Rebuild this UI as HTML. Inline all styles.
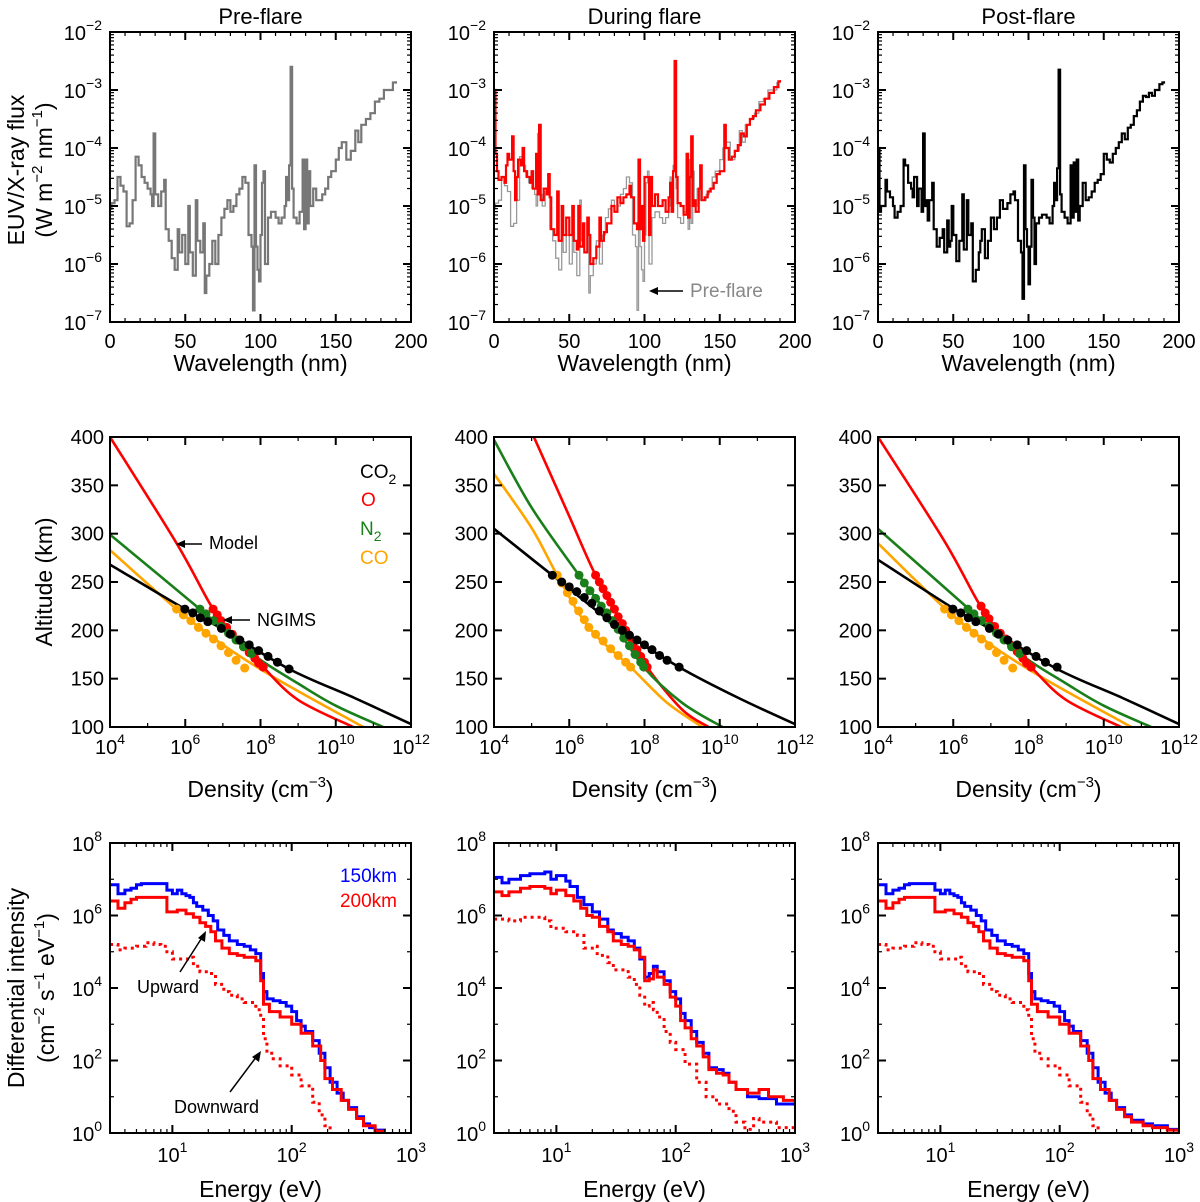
<!DOCTYPE html>
<html><head><meta charset="utf-8"><style>
body{margin:0;background:#fff}
svg{display:block;font-family:"Liberation Sans",Arial,sans-serif}
</style></head><body>
<svg id="fig" width="1200" height="1202" viewBox="0 0 1200 1202" xmlns="http://www.w3.org/2000/svg">
<g id="layer"></g>
</svg>
<script>
// ---------- DATA ----------
const preFlare=[[0,-5.05],[1,-4.95],[3,-4.9],[5,-4.5],[7,-4.65],[9,-4.75],[11,-5.35],[13,-5.3],[15,-4.9],[17,-4.15],[19,-4.3],[21,-4.5],[23,-4.6],[25,-4.7],[27,-4.8],[28,-5.0],[29,-3.75],[30,-4.8],[32,-5.0],[34,-4.75],[36,-4.55],[37,-5.4],[39,-5.6],[41,-5.9],[43,-6.1],[45,-5.4],[46,-5.8],[48,-5.5],[50,-6.0],[52,-5.0],[53,-5.8],[55,-6.2],[57,-4.9],[58,-5.6],[60,-5.8],[62,-5.3],[63,-6.5],[64,-6.2],[66,-6.0],[68,-5.6],[70,-6.0],[72,-5.5],[74,-5.2],[76,-5.05],[78,-4.9],[80,-5.1],[82,-5.0],[84,-4.8],[86,-4.7],[88,-4.5],[90,-4.6],[92,-5.5],[94,-5.7],[95,-6.8],[96,-4.3],[97,-5.7],[98,-6.1],[99,-6.3],[100,-5.5],[101,-4.6],[102,-4.4],[103,-6.0],[105,-5.2],[107,-5.1],[110,-5.2],[112,-5.3],[114,-5.2],[116,-5.0],[117,-4.5],[118,-4.9],[119,-4.3],[120,-2.6],[121,-4.7],[122,-5.2],[124,-5.3],[126,-5.1],[128,-4.2],[129,-5.4],[130,-4.2],[131,-5.3],[132,-4.4],[133,-5.0],[135,-4.7],[137,-4.9],[139,-4.9],[141,-4.8],[143,-4.7],[145,-4.5],[147,-4.4],[150,-4.2],[152,-4.0],[154,-3.9],[157,-4.2],[160,-4.05],[163,-3.7],[165,-3.9],[167,-3.6],[170,-3.5],[173,-3.4],[176,-3.2],[179,-3.15],[182,-3.0],[185,-3.0],[188,-2.87],[190,-2.85]];
const duringFlare=[[0,-3.0],[1,-4.1],[2,-4.4],[3,-4.55],[5,-4.5],[7,-4.6],[8,-4.3],[9,-4.1],[10,-4.2],[12,-3.8],[13,-4.4],[14,-4.9],[15,-4.5],[16,-4.2],[18,-4.3],[19,-4.0],[20,-4.4],[22,-4.5],[24,-4.6],[25,-4.4],[26,-4.7],[28,-4.1],[29,-4.8],[30,-3.6],[31,-4.9],[33,-4.7],[35,-4.8],[36,-4.45],[37,-4.85],[38,-5.4],[40,-5.5],[42,-4.75],[43,-5.6],[45,-5.0],[46,-5.5],[48,-5.2],[50,-5.5],[52,-5.0],[53,-5.6],[55,-5.75],[56,-5.0],[57,-5.7],[59,-5.3],[60,-5.8],[62,-5.2],[63,-5.5],[64,-6.0],[66,-5.9],[68,-5.7],[70,-5.2],[71,-5.6],[73,-5.45],[75,-5.3],[78,-5.0],[80,-5.1],[82,-4.85],[84,-4.95],[86,-4.85],[88,-4.8],[90,-4.65],[91,-4.85],[93,-5.3],[95,-5.4],[96,-4.2],[97,-5.4],[98,-5.0],[99,-5.6],[100,-4.5],[101,-4.5],[103,-5.5],[104,-4.5],[105,-5.0],[107,-4.8],[109,-5.0],[112,-4.9],[114,-5.1],[116,-4.85],[117,-4.6],[118,-5.1],[119,-4.4],[120,-2.5],[121,-4.5],[122,-4.95],[124,-5.0],[126,-5.15],[128,-4.1],[129,-5.2],[130,-4.5],[131,-3.8],[132,-5.0],[133,-4.9],[134,-5.1],[136,-4.7],[137,-4.3],[138,-4.9],[140,-4.85],[142,-4.75],[144,-4.7],[146,-4.6],[148,-4.45],[150,-4.4],[153,-3.6],[154,-4.0],[156,-4.2],[158,-4.15],[160,-4.05],[162,-3.95],[164,-3.75],[166,-3.8],[168,-3.6],[170,-3.5],[172,-3.45],[174,-3.35],[177,-3.25],[180,-3.15],[183,-3.05],[186,-2.95],[189,-2.85],[190,-2.83]];
const postFlare=[[0,-4.0],[1,-5.1],[2,-5.0],[5,-4.55],[6,-4.75],[8,-4.85],[10,-5.0],[11,-5.2],[13,-5.1],[15,-5.0],[17,-4.2],[18,-4.3],[20,-4.6],[22,-4.7],[23,-4.85],[24,-4.5],[26,-5.0],[27,-4.7],[29,-5.1],[30,-3.75],[31,-5.0],[32,-4.9],[33,-5.25],[34,-4.9],[36,-4.6],[37,-5.4],[39,-5.7],[41,-5.55],[43,-5.4],[44,-5.8],[46,-5.25],[47,-5.7],[48,-5.6],[49,-5.0],[50,-5.5],[52,-5.95],[54,-5.6],[56,-4.8],[57,-5.75],[59,-4.9],[60,-5.5],[62,-5.3],[63,-6.3],[65,-6.1],[67,-5.8],[68,-5.6],[69,-5.4],[71,-5.9],[73,-5.6],[75,-5.2],[77,-5.4],[79,-5.2],[81,-4.9],[83,-5.05],[86,-4.95],[88,-4.8],[90,-4.75],[91,-4.9],[93,-5.6],[95,-5.8],[96,-6.6],[97,-4.3],[98,-5.4],[99,-5.7],[100,-6.35],[101,-5.7],[102,-4.55],[103,-5.2],[104,-6.0],[105,-5.3],[107,-5.2],[109,-5.15],[112,-5.2],[114,-5.3],[116,-5.0],[117,-4.6],[118,-4.9],[119,-4.35],[120,-2.65],[121,-4.8],[122,-5.1],[124,-5.2],[126,-5.3],[128,-4.3],[129,-5.2],[130,-4.25],[131,-5.1],[132,-4.2],[133,-5.25],[134,-5.0],[136,-4.6],[138,-4.9],[140,-4.85],[142,-4.75],[144,-4.6],[146,-4.55],[148,-4.45],[150,-4.1],[152,-4.2],[154,-4.25],[156,-4.1],[158,-4.0],[160,-3.9],[162,-3.75],[164,-3.85],[166,-3.65],[168,-3.6],[170,-3.45],[172,-3.35],[174,-3.2],[176,-3.1],[178,-3.12],[180,-3.05],[182,-3.1],[184,-3.0],[187,-2.9],[189,-2.87],[190,-2.85]];
// Row 2: [log10 density, altitude km]
const preCO2=[[4,268],[5.99,222],[6.96,202],[8.76,160],[10.5,130],[12,103]];
const preO=[[4,400],[5.77,290],[6.74,222],[7.4,190],[8.07,162],[9,128],[10.46,100]];
const preN2=[[4,299],[6.39,222],[7.76,176],[9,145],[10,122],[11.26,100]];
const preCO=[[4,283],[5.77,222],[7,185],[8.42,150],[10.73,100]];
const preCO2dots=[[5.99,222],[6.2,218],[6.4,213],[6.6,209],[6.96,202],[7.2,196],[7.45,190],[7.7,185],[7.95,179],[8.2,173],[8.45,167],[8.76,160]];
const preOdots=[[6.74,222],[6.85,216],[6.95,210],[7.1,203],[7.25,196],[7.4,190],[7.55,183],[7.7,177],[7.85,171],[7.95,166],[8.07,162]];
const preN2dots=[[6.39,222],[6.55,217],[6.75,210],[6.95,204],[7.15,197],[7.35,190],[7.55,183],[7.76,176]];
const preCOdots=[[5.77,222],[5.95,216],[6.15,210],[6.35,203],[6.55,197],[6.75,191],[6.95,184],[7.15,177],[7.35,169],[7.58,161]];
const flCO2=[[4,305],[5.55,257],[7.41,200],[8.92,162],[10.5,130],[12,103]];
const flO=[[5.06,400],[6.0,318],[6.7,257],[7.41,207],[8.07,162],[9.0,118],[9.7,100]];
const flN2=[[4,397],[5,327],[6.26,257],[7.14,210],[7.98,162],[9,125],[10.07,100]];
const flCO=[[4,362],[5,306],[5.68,257],[6.52,203],[7.63,162],[8.6,125],[9.54,100]];
const flCO2dots=[[5.55,257],[5.8,250],[6.0,245],[6.2,240],[6.4,234],[6.6,228],[6.8,220],[7.0,213],[7.2,206],[7.41,200],[7.6,195],[7.8,190],[8.0,185],[8.2,180],[8.4,174],[8.6,169],[8.92,162]];
const flOdots=[[6.7,257],[6.8,250],[6.9,243],[7.0,236],[7.1,229],[7.2,222],[7.3,214],[7.41,207],[7.5,200],[7.6,193],[7.7,187],[7.8,180],[7.9,173],[8.0,167],[8.07,162]];
const flN2dots=[[6.26,257],[6.4,249],[6.55,241],[6.7,233],[6.85,225],[7.0,218],[7.14,210],[7.3,201],[7.45,192],[7.6,184],[7.75,175],[7.9,167],[7.98,162]];
const flCOdots=[[5.68,257],[5.8,249],[5.95,239],[6.1,230],[6.25,220],[6.4,211],[6.52,203],[6.7,196],[6.9,189],[7.1,181],[7.3,174],[7.5,167],[7.63,162]];
const poCO2=[[4,273],[5.99,223],[6.96,202],[8.76,160],[10.5,130],[12,103]];
const poO=[[4,400],[5.77,292],[6.74,224],[7.4,191],[8.07,162],[9,128],[10.46,100]];
const poN2=[[4,305],[6.39,223],[7.76,176],[9,145],[10,122],[11.26,100]];
const poCO=[[4,290],[5.77,223],[7,185],[8.42,150],[10.73,100]];
const poCO2dots=[[5.99,222],[6.2,218],[6.4,213],[6.6,209],[6.96,202],[7.2,196],[7.45,190],[7.7,185],[7.95,179],[8.2,173],[8.45,167],[8.76,162]];
const poOdots=[[6.74,225],[6.85,218],[6.95,212],[7.1,204],[7.25,197],[7.4,191],[7.55,184],[7.7,178],[7.85,171],[7.95,166],[8.07,162]];
const poN2dots=[[6.39,222],[6.55,217],[6.75,210],[6.95,204],[7.15,197],[7.35,190],[7.55,183],[7.76,176]];
const poCOdots=[[5.77,222],[5.95,216],[6.15,210],[6.35,203],[6.55,197],[6.75,191],[6.95,184],[7.15,177],[7.35,169],[7.58,161]];
// Row 3: [energy eV, log10 intensity]
const pre150=[[3,6.85],[3.5,6.6],[4,6.7],[4.5,6.75],[5,6.85],[5.5,6.88],[9,6.7],[10,6.6],[11,6.7],[12,6.6],[13,6.55],[14,6.5],[15,6.35],[16,6.25],[18,6.15],[20,6.0],[22,5.85],[24,5.6],[27,5.45],[30,5.3],[35,5.2],[40,5.15],[45,5.05],[50,4.95],[55,4.4],[58,3.9],[62,3.7],[70,3.65],[80,3.6],[90,3.5],[100,3.35],[110,3.1],[120,2.95],[130,2.8],[150,2.55],[170,2.2],[190,1.8],[210,1.4],[240,1.1],[270,0.9],[300,0.7],[350,0.45],[400,0.25],[450,0.15],[500,0.08],[600,0.0]];
const pre200=[[3,6.4],[3.5,6.2],[4,6.35],[4.5,6.45],[5,6.5],[9,6.1],[11,6.15],[13,6.05],[15,5.95],[17,5.8],[19,5.7],[21,5.55],[23,5.3],[26,5.1],[30,4.95],[35,4.9],[40,4.85],[50,4.75],[55,4.2],[58,3.55],[65,3.35],[80,3.2],[100,3.0],[120,2.75],[150,2.4],[175,2.0],[190,1.5],[220,1.2],[260,0.9],[300,0.65],[350,0.4],[400,0.2],[500,0.05],[600,0.0]];
const preDown=[[3,5.2],[3.5,5.05],[4,5.1],[5,5.15],[6,5.25],[7,5.2],[8,5.15],[9,5.0],[10,4.8],[12,4.8],[14,4.85],[15,4.6],[17,4.45],[20,4.4],[23,4.1],[27,3.9],[30,3.8],[35,3.7],[40,3.6],[50,3.4],[55,3.2],[58,2.6],[62,2.2],[70,2.05],[80,1.85],[100,1.6],[120,1.3],[150,0.85],[170,0.5],[190,0.2],[210,0.0]];
const fl150=[[3,7.05],[3.5,6.9],[4,7.0],[5,7.1],[6,7.15],[8,7.2],[9,7.0],[10,7.1],[12,6.95],[13,6.8],[15,6.5],[17,6.3],[20,6.1],[23,5.9],[27,5.6],[30,5.5],[35,5.4],[40,5.3],[45,5.1],[50,4.8],[55,4.3],[60,4.4],[65,4.6],[70,4.45],[80,4.2],[90,3.9],[100,3.7],[110,3.3],[120,3.1],[135,2.8],[150,2.5],[170,2.2],[190,1.8],[220,1.75],[250,1.65],[280,1.4],[320,1.2],[400,1.0],[500,0.95],[700,0.8],[1000,0.75]];
const fl200=[[3,6.65],[3.5,6.55],[4,6.65],[5,6.75],[6,6.8],[8,6.75],[9,6.6],[10,6.7],[12,6.55],[14,6.4],[16,6.2],[18,6.0],[20,5.95],[23,5.7],[27,5.55],[30,5.3],[35,5.2],[40,5.15],[45,5.05],[50,4.85],[55,4.2],[60,4.25],[65,4.5],[70,4.3],[80,4.1],[90,3.75],[100,3.5],[110,3.1],[120,2.9],[135,2.6],[150,2.4],[170,2.1],[190,1.75],[220,1.65],[250,1.6],[280,1.4],[320,1.2],[400,1.1],[500,1.2],[600,1.0],[800,0.9],[1000,0.85]];
const flDown=[[3,5.9],[4,5.85],[5,5.95],[6,5.95],[8,5.85],[9,5.65],[12,5.55],[15,5.45],[17,5.1],[20,5.15],[22,4.9],[27,4.7],[30,4.5],[35,4.5],[40,4.3],[45,4.1],[50,3.8],[55,3.5],[60,3.6],[65,3.4],[70,3.2],[80,2.8],[90,2.5],[100,2.3],[120,1.9],[150,1.4],[180,1.0],[220,0.8],[280,0.6],[320,0.3],[380,0.1],[450,0.4],[500,0.3],[700,0.15],[1000,0.05]];
const po150=[[3,6.85],[3.5,6.6],[4,6.7],[4.5,6.75],[5,6.85],[5.5,6.88],[9,6.7],[10,6.6],[11,6.7],[12,6.6],[13,6.55],[14,6.5],[15,6.35],[16,6.25],[18,6.15],[20,6.0],[22,5.85],[24,5.6],[27,5.45],[30,5.3],[35,5.2],[40,5.15],[45,5.05],[50,4.95],[55,4.4],[58,3.9],[62,3.7],[70,3.65],[80,3.6],[90,3.5],[100,3.35],[110,3.1],[120,2.95],[130,2.8],[150,2.55],[170,2.2],[190,1.8],[210,1.4],[240,1.1],[270,0.9],[300,0.7],[350,0.5],[400,0.35],[500,0.25],[600,0.2],[800,0.1],[1000,0.0]];
const po200=[[3,6.4],[3.5,6.2],[4,6.35],[4.5,6.45],[5,6.5],[9,6.1],[11,6.15],[13,6.05],[15,5.95],[17,5.8],[19,5.7],[21,5.55],[23,5.3],[26,5.1],[30,4.95],[35,4.9],[40,4.85],[50,4.75],[55,4.2],[58,3.55],[65,3.35],[80,3.2],[100,3.0],[120,2.75],[150,2.4],[175,2.0],[190,1.5],[220,1.2],[260,0.9],[300,0.65],[350,0.45],[400,0.3],[500,0.2],[600,0.15],[800,0.08],[1000,0.0]];
const poDown=[[3,5.2],[3.5,5.05],[4,5.1],[5,5.15],[6,5.25],[7,5.2],[8,5.15],[9,5.0],[10,4.8],[12,4.8],[14,4.85],[15,4.6],[17,4.45],[20,4.4],[23,4.1],[27,3.9],[30,3.8],[35,3.7],[40,3.6],[50,3.4],[55,3.2],[58,2.6],[62,2.2],[70,2.05],[80,1.85],[100,1.6],[120,1.3],[150,0.85],[170,0.5],[190,0.2],[210,0.0]];
const panelTitles=["Pre-flare","During flare","Post-flare"];
const row1YTicks=[-7,-6,-5,-4,-3,-2];
const row1XTicks=[0,50,100,150,200];
const row2YTicks=[100,150,200,250,300,350,400];
const row2XTicks=[4,6,8,10,12];
const row3YTicks=[0,2,4,6,8];
const row3XTicks=[1,2,3];

// ---------- HELPERS ----------
const NS="http://www.w3.org/2000/svg";
const layer=document.getElementById('layer');
function mk(tag,attrs,parent){const e=document.createElementNS(NS,tag);for(const k in attrs)e.setAttribute(k,attrs[k]);(parent||layer).appendChild(e);return e;}
const COLS=[110,494,878],W=301;
const ROWS=[[32,322],[437,727],[843,1133]];
const TK=20,SUP=14,AX=23;
function scale(d0,d1,p0,p1){return v=>p0+(v-d0)*(p1-p0)/(d1-d0);}
function powLabel(x,y,exp,anchor,name,parent){
  const t=mk('text',{x:x,y:y,'text-anchor':anchor,'font-size':TK,fill:'#000'},parent);
  
  
  const a=mk('tspan',{},t);a.textContent='10';
  const b=mk('tspan',{dy:-10,'font-size':SUP},t);b.textContent=String(exp).replace('-','\u2212');
  return t;
}
function txt(x,y,s,size,fill,anchor,name,parent,extra){
  const t=mk('text',Object.assign({x:x,y:y,'font-size':size,fill:fill,'text-anchor':anchor||'start'},extra||{}),parent);
  
  
  t.textContent=s;return t;
}
function stepPath(data,sx,sy){
  let d='';
  data.forEach((p,i)=>{const X=sx(p[0]).toFixed(1),Y=sy(p[1]).toFixed(1);
    if(i===0)d+='M'+X+','+Y;else d+='H'+X+'V'+Y;});
  return d;
}
function smoothPath(data,sx,sy){
  const pts=data.map(p=>[sx(p[0]),sy(p[1])]);
  let d='M'+pts[0][0].toFixed(1)+','+pts[0][1].toFixed(1);
  for(let i=0;i<pts.length-1;i++){
    const p0=pts[Math.max(0,i-1)],p1=pts[i],p2=pts[i+1],p3=pts[Math.min(pts.length-1,i+2)];
    const c1=[p1[0]+(p2[0]-p0[0])/6,p1[1]+(p2[1]-p0[1])/6];
    const c2=[p2[0]-(p3[0]-p1[0])/6,p2[1]-(p3[1]-p1[1])/6];
    d+='C'+c1.map(v=>v.toFixed(1))+' '+c2.map(v=>v.toFixed(1))+' '+p2.map(v=>v.toFixed(1));
  }
  return d;
}
function frame(g,L,T,H,name){
  const r=mk('rect',{x:L,y:T,width:W,height:H,fill:'none',stroke:'#000','stroke-width':2},g);
  
  
  return r;
}
function tickLine(g,x1,y1,x2,y2,w){mk('line',{x1:x1,y1:y1,x2:x2,y2:y2,stroke:'#000','stroke-width':w||1.5},g);}
function yTicksBoth(g,L,R,y,len,w){tickLine(g,L,y,L+len,y,w);tickLine(g,R,y,R-len,y,w);}
function xTicksBoth(g,T,B,x,len,w){tickLine(g,x,B,x,B-len,w);tickLine(g,x,T,x,T+len,w);}

// ---------- ROW 1 ----------
const spectra=[preFlare,duringFlare,postFlare];
const specColors=['#777777','#ff0000','#000000'];
for(let c=0;c<3;c++){
  const L=COLS[c],R=L+W,[T,B]=ROWS[0];
  const g=mk('g',{});
  
  
  const sx=scale(0,200,L,R),sy=scale(-7,-2,B,T);
  txt((L+R)/2,24,panelTitles[c],22,'#000','middle','panel-title-'+(c+1),g);
  if(c===1){
    const pg=mk('path',{d:stepPath(preFlare,sx,sy),fill:'none',stroke:'#999','stroke-width':1.3},g);
    
    
  }
  const p=mk('path',{d:stepPath(spectra[c],sx,sy),fill:'none',stroke:specColors[c],'stroke-width':2.2},g);
  
  
  frame(g,L,T,B-T,'plot-frame');
  row1YTicks.forEach(e=>{const y=sy(e);
    if(e>-7&&e<-2)yTicksBoth(g,L,R,y,8,2);
    if(e<-2)for(let m=2;m<10;m++){const ym=sy(e+Math.log10(m));yTicksBoth(g,L,R,ym,4,1.2);}
    powLabel(L-8,y+8,e,'end','y-tick-label',g);});
  for(let v=0;v<=200;v+=10){const x=sx(v);xTicksBoth(g,T,B,x,v%50===0?8:4,v%50===0?2:1.2);}
  row1XTicks.forEach(v=>txt(sx(v),B+26,String(v),TK,'#000','middle','x-tick-label',g));
  txt((L+R)/2,B+49,'Wavelength (nm)',AX,'#000','middle','x-axis-title',g);
}
{
  const g=mk('g',{transform:'translate(24,170) rotate(-90)'});
  
  
  txt(0,0,'EUV/X-ray flux',AX,'#000','middle','y-axis-title-line1',g);
  const t=mk('text',{x:0,y:28,'font-size':AX,'text-anchor':'middle'},g);
  
  
  t.innerHTML='(W m<tspan dy="-10" font-size="15">\u22122</tspan><tspan dy="10"> nm</tspan><tspan dy="-10" font-size="15">\u22121</tspan><tspan dy="10">)</tspan>';
  const a=mk('g',{});
  
  
  mk('line',{x1:683,y1:291,x2:652,y2:291,stroke:'#000','stroke-width':1.5},a);
  mk('path',{d:'M649,291 L658,287 L658,295 Z',fill:'#000'},a);
  txt(690,297,'Pre-flare',19,'#888','start','preflare-label',a);
}

// ---------- ROW 2 ----------
const curves=[[preCO2,preO,preN2,preCO],[flCO2,flO,flN2,flCO],[poCO2,poO,poN2,poCO]];
const dots=[[preCO2dots,preOdots,preN2dots,preCOdots],[flCO2dots,flOdots,flN2dots,flCOdots],[poCO2dots,poOdots,poN2dots,poCOdots]];
const specNames=['co2','o','n2','co'];
const specCols=['#000000','#ff0000','#1a7f1a','#ffa500'];
const drawOrder=[3,1,2,0];
for(let c=0;c<3;c++){
  const L=COLS[c],R=L+W,[T,B]=ROWS[1];
  const g=mk('g',{});
  
  
  const cp=mk('clipPath',{id:'cp2'+c},g);mk('rect',{x:L,y:T,width:W,height:B-T},cp);
  const sx=scale(4,12,L,R),sy=scale(100,400,B,T);
  const inner=mk('g',{'clip-path':'url(#cp2'+c+')'},g);
  drawOrder.forEach(s=>{
    const p=mk('path',{d:smoothPath(curves[c][s],sx,sy),fill:'none',stroke:specCols[s],'stroke-width':2.6},inner);
    
    
  });
  drawOrder.forEach(s=>{
    dots[c][s].forEach(d=>{
      const ci=mk('circle',{cx:sx(d[0]),cy:sy(d[1]),r:4.5,fill:specCols[s]},inner);
      
      
    });
  });
  frame(g,L,T,B-T,'plot-frame');
  row2YTicks.forEach(v=>{const y=sy(v);if(v>100&&v<400)yTicksBoth(g,L,R,y,8,2);
    txt(L-6,y+7,String(v),TK,'#000','end','y-tick-label',g);});
  for(let e=5;e<12;e++){xTicksBoth(g,T,B,sx(e),e%2===0?8:4,e%2===0?2:1.2);}
  row2XTicks.forEach(e=>powLabel(sx(e),B+27,e,'middle','x-tick-label',g));
  const t=mk('text',{x:(L+R)/2,y:B+70,'font-size':AX,'text-anchor':'middle'},g);
  
  
  t.innerHTML='Density (cm<tspan dy="-10" font-size="15">\u22123</tspan><tspan dy="10">)</tspan>';
}
{
  const g=mk('g',{transform:'translate(52,582) rotate(-90)'});
  
  
  txt(0,0,'Altitude (km)',AX,'#000','middle','altitude-title',g);
  const lg=mk('g',{});
  
  
  const t1=mk('text',{x:360,y:478,'font-size':19,fill:'#000'},lg);
  
  
  t1.innerHTML='CO<tspan dy="6" font-size="14">2</tspan>';
  txt(361,506,'O',19,'#ff0000','start','legend-o',lg);
  const t3=mk('text',{x:360,y:535,'font-size':19,fill:'#1a7f1a'},lg);
  
  
  t3.innerHTML='N<tspan dy="6" font-size="14">2</tspan>';
  txt(360,564,'CO',19,'#ffa500','start','legend-co',lg);
  const an=mk('g',{});
  
  
  mk('line',{x1:202,y1:544,x2:180,y2:544,stroke:'#000','stroke-width':1.5},an);
  mk('path',{d:'M176,544 L185,540 L185,548 Z',fill:'#000'},an);
  txt(209,549,'Model',18,'#000','start','model-label',an);
  mk('line',{x1:250,y1:620,x2:227,y2:620,stroke:'#000','stroke-width':1.5},an);
  mk('path',{d:'M223,620 L232,616 L232,624 Z',fill:'#000'},an);
  txt(257,626,'NGIMS',18,'#000','start','ngims-label',an);
}

// ---------- ROW 3 ----------
const eSeries=[[pre150,pre200,preDown],[fl150,fl200,flDown],[po150,po200,poDown]];
for(let c=0;c<3;c++){
  const L=COLS[c],R=L+W,[T,B]=ROWS[2];
  const g=mk('g',{});
  
  
  const cp=mk('clipPath',{id:'cp3'+c},g);mk('rect',{x:L,y:T,width:W,height:B-T},cp);
  const lsx=scale(Math.log10(3),3,L,R),sy=scale(0,8,B,T);
  const sx=v=>lsx(Math.log10(v));
  const inner=mk('g',{'clip-path':'url(#cp3'+c+')'},g);
  const [b,r,dn]=eSeries[c];
  const pd=mk('path',{d:stepPath(dn,sx,sy),fill:'none',stroke:'#ff0000','stroke-width':3,'stroke-dasharray':'3,4'},inner);
  
  
  const pb=mk('path',{d:stepPath(b,sx,sy),fill:'none',stroke:'#0000ff','stroke-width':3},inner);
  
  
  const pr=mk('path',{d:stepPath(r,sx,sy),fill:'none',stroke:'#ff0000','stroke-width':3},inner);
  
  
  frame(g,L,T,B-T,'plot-frame');
  for(let e=1;e<8;e++)yTicksBoth(g,L,R,sy(e),e%2===0?8:4,e%2===0?2:1.2);
  row3YTicks.forEach(e=>powLabel(L-8,sy(e)+8,e,'end','y-tick-label',g));
  for(let d=0;d<3;d++)for(let m=1;m<10;m++){const v=m*Math.pow(10,d);if(v<=3||v>=1000)continue;
    xTicksBoth(g,T,B,sx(v),m===1?8:4,m===1?2:1.2);}
  row3XTicks.forEach(e=>powLabel(lsx(e),B+29,e,'middle','x-tick-label',g));
  txt((L+R)/2,B+64,'Energy (eV)',AX,'#000','middle','x-axis-title',g);
}
{
  const g=mk('g',{transform:'translate(24,988) rotate(-90)'});
  
  
  txt(0,0,'Differential intensity',AX,'#000','middle','intensity-title',g);
  const t=mk('text',{x:0,y:30,'font-size':AX,'text-anchor':'middle'},g);
  
  
  t.innerHTML='(cm<tspan dy="-10" font-size="15">\u22122</tspan><tspan dy="10"> s</tspan><tspan dy="-10" font-size="15">\u22121</tspan><tspan dy="10"> eV</tspan><tspan dy="-10" font-size="15">\u22121</tspan><tspan dy="10">)</tspan>';
  const lg=mk('g',{});
  
  
  txt(397,882,'150km',19,'#0000ff','end','legend-150km',lg);
  txt(397,907,'200km',19,'#ff0000','end','legend-200km',lg);
  const an=mk('g',{});
  
  
  mk('line',{x1:180,y1:972,x2:203,y2:936,stroke:'#000','stroke-width':1.5},an);
  mk('path',{d:'M206,931 L205,942 L198,938 Z',fill:'#000'},an);
  txt(137,993,'Upward',18,'#000','start','upward-label',an);
  mk('line',{x1:230,y1:1092,x2:257,y2:1056,stroke:'#000','stroke-width':1.5},an);
  mk('path',{d:'M261,1051 L259,1062 L252,1057 Z',fill:'#000'},an);
  txt(174,1113,'Downward',18,'#000','start','downward-label',an);
}
</script>
</body></html>
